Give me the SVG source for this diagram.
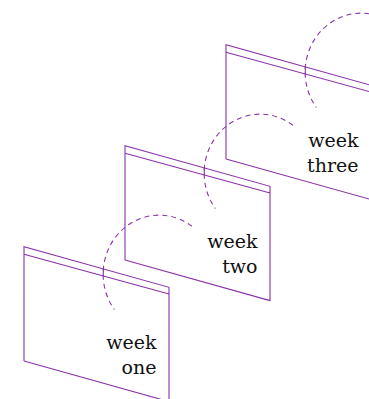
<svg xmlns="http://www.w3.org/2000/svg" width="369" height="399" viewBox="0 0 369 399">
<style>
.pg{fill:none;stroke:#8a32a8;stroke-width:1.1}
.ring{fill:none;stroke:#8a32a8;stroke-width:1.1;stroke-dasharray:5 4}
.tick{fill:none;stroke:#8a32a8;stroke-width:1.1}
.lbl{font-family:"DejaVu Serif","Liberation Serif",serif;font-size:19px;fill:#111;text-anchor:end}
</style>
<defs>
<g id="page">
<path class="pg" d="M24,361 L24,246.7 L169,287.3 L169,402 M24,254.3 L169,294 M24,361 L169,401.6"/>
</g>
<g id="loop">
<path class="ring" d="M191.9,226.3 A56,59 0 0,0 114.3,309.5"/>
<path class="tick" d="M103.3,268.8 L103.3,276"/>
</g>
</defs>
<g id="week-one">
<use href="#page"/>
<text class="lbl" x="156.5" y="349.3">week</text>
<text class="lbl" x="156.5" y="374.3">one</text>
</g>
<g id="week-two" transform="translate(101,-101)">
<use href="#page"/>
<text class="lbl" x="156.5" y="349.3">week</text>
<text class="lbl" x="156.5" y="374.3">two</text>
</g>
<g id="week-three" transform="translate(202,-202)">
<use href="#page"/>
<text class="lbl" x="156.5" y="349.3">week</text>
<text class="lbl" x="156.5" y="374.3">three</text>
</g>
<g id="connectors">
<use href="#loop"/>
<use href="#loop" transform="translate(101,-101)"/>
<use href="#loop" transform="translate(202,-202)"/>
</g>
</svg>
